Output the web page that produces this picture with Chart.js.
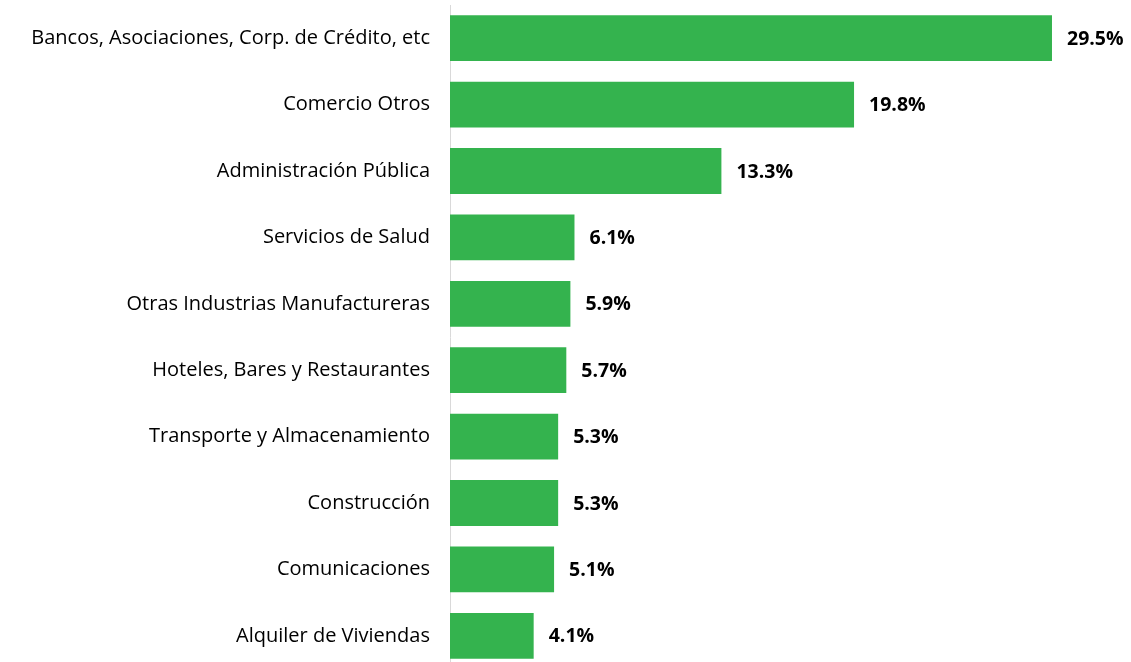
<!DOCTYPE html>
<html>
<head>
<meta charset="utf-8">
<script src="https://cdn.jsdelivr.net/npm/chart.js@4"></script>
<style>
  html, body { margin: 0; padding: 0; background: #fff; overflow: hidden; }
  #wrap { width: 1131px; height: 670px; }
</style>
</head>
<body>
<div id="wrap"><canvas id="barras"></canvas></div>
<script>
// Datos del gráfico
var sectores = [
    'Bancos, Asociaciones, Corp. de Crédito, etc',
    'Comercio Otros',
    'Administración Pública',
    'Servicios de Salud',
    'Otras Industrias Manufactureras',
    'Hoteles, Bares y Restaurantes',
    'Transporte y Almacenamiento',
    'Construcción',
    'Comunicaciones',
    'Alquiler de Viviendas'
];
var porcentajes = [29.5, 19.8, 13.3, 6.1, 5.9, 5.7, 5.3, 5.3, 5.1, 4.1];

// Etiquetas de valor al final de cada barra
var etiquetasValor = {
    id: 'etiquetasValor',
    afterDatasetsDraw: function (chart) {
        var ctx = chart.ctx;
        var meta = chart.getDatasetMeta(0);
        ctx.save();
        ctx.font = 'bold 19.5px "Open Sans", sans-serif';
        ctx.fillStyle = '#000';
        ctx.textAlign = 'left';
        ctx.textBaseline = 'middle';
        meta.data.forEach(function (bar, i) {
            ctx.fillText(porcentajes[i].toFixed(1) + '%', bar.x + 15, bar.y + 1);
        });
        ctx.restore();
    }
};

var ctx = document.getElementById('barras').getContext('2d');
var grafico = new Chart(ctx, {
    type: 'bar',
    data: {
        labels: sectores,
        datasets: [{
            data: porcentajes,
            backgroundColor: '#34b34e',
            borderWidth: 0,
            categoryPercentage: 1,
            barPercentage: 0.69
        }]
    },
    options: {
        indexAxis: 'y',
        responsive: true,
        maintainAspectRatio: false,
        animation: false,
        events: [],
        layout: { padding: { top: 5, bottom: 1, left: 0, right: 28 } },
        plugins: {
            legend: { display: false },
            tooltip: { enabled: false }
        },
        scales: {
            x: {
                display: false,
                min: 0,
                max: 32
            },
            y: {
                afterFit: function (scale) {
                    scale.width = 450;
                    scale.paddingTop = 0;
                    scale.paddingBottom = 0;
                },
                grid: { display: false, drawTicks: false },
                border: { display: true, color: '#d9d9d9', width: 1 },
                ticks: {
                    padding: 20,
                    color: '#000',
                    font: { family: '"Open Sans", sans-serif', size: 20 }
                }
            }
        }
    },
    plugins: [etiquetasValor]
});
</script>
</body>
</html>
